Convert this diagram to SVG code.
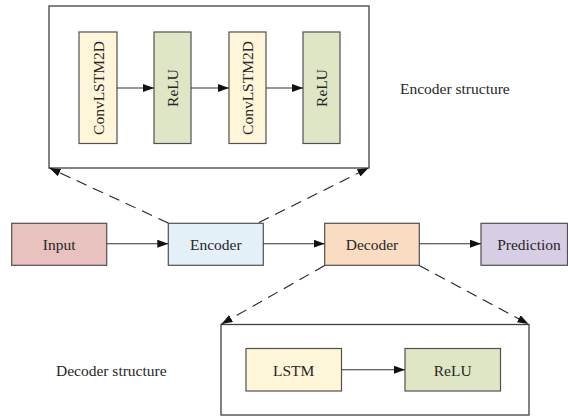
<svg xmlns="http://www.w3.org/2000/svg" width="568" height="417" viewBox="0 0 568 417">
<defs>
<marker id="ah" markerUnits="userSpaceOnUse" markerWidth="12" markerHeight="8" refX="11" refY="4" orient="auto">
<path d="M0,0 L11,4 L0,8 z" fill="#111"/>
</marker>
<style>
.box{stroke:#505050;stroke-width:1.2}
.frame{fill:#fff;stroke:#404040;stroke-width:1.3}
.t{font-family:"Liberation Serif","Times New Roman",serif;font-size:15.5px;fill:#262626;text-anchor:middle;dominant-baseline:central}
.lab{font-family:"Liberation Serif","Times New Roman",serif;font-size:15.5px;fill:#262626;dominant-baseline:central}
.arr{stroke:#333;stroke-width:1.1;fill:none;marker-end:url(#ah)}
.dash{stroke:#222;stroke-width:1.1;fill:none;stroke-dasharray:11,7;marker-end:url(#ah)}
.yel{fill:#FFF5D8}
.grn{fill:#DFE6C5}
</style>
</defs>
<rect width="568" height="417" fill="#fff"/>

<g id="encoder-structure">
<rect class="frame" x="49" y="6" width="320" height="162"/>
<g id="enc-convlstm1"><rect class="box yel" x="79" y="32" width="38" height="111.5"/><text class="t" transform="translate(98,88) rotate(-90)">ConvLSTM2D</text></g>
<g id="enc-relu1"><rect class="box grn" x="154" y="32" width="37" height="111.5"/><text class="t" transform="translate(172.5,88) rotate(-90)">ReLU</text></g>
<g id="enc-convlstm2"><rect class="box yel" x="229" y="32" width="37" height="111.5"/><text class="t" transform="translate(247.5,88) rotate(-90)">ConvLSTM2D</text></g>
<g id="enc-relu2"><rect class="box grn" x="303" y="32" width="37" height="111.5"/><text class="t" transform="translate(321.5,88) rotate(-90)">ReLU</text></g>
</g>
<g id="encoder-label"><text class="lab" x="400" y="88">Encoder structure</text></g>

<g id="decoder-structure">
<rect class="frame" x="221" y="324.5" width="308" height="90.5"/>
<g id="dec-lstm"><rect class="box yel" x="246" y="348.5" width="95.5" height="42.5"/><text class="t" x="293.7" y="370">LSTM</text></g>
<g id="dec-relu"><rect class="box grn" x="405" y="348.5" width="95.5" height="42.5"/><text class="t" x="452.7" y="370">ReLU</text></g>
</g>
<g id="decoder-label"><text class="lab" x="56" y="370">Decoder structure</text></g>

<g id="input"><rect class="box" fill="#E8C2BE" x="11.7" y="223.3" width="95" height="42"/><text class="t" x="59.2" y="244.3">Input</text></g>
<g id="encoder"><rect class="box" fill="#E3F0F7" x="168.3" y="223.3" width="95" height="42"/><text class="t" x="215.8" y="244.3">Encoder</text></g>
<g id="decoder"><rect class="box" fill="#FADCC3" x="324.7" y="223.3" width="94.6" height="42"/><text class="t" x="372" y="244.3">Decoder</text></g>
<g id="prediction"><rect class="box" fill="#D8CEE4" x="481" y="223.3" width="86.5" height="42"/><text class="t" x="529" y="244.3">Prediction</text></g>

<g id="connectors">
<line class="arr" x1="117" y1="88" x2="154" y2="88"/>
<line class="arr" x1="191" y1="88" x2="229" y2="88"/>
<line class="arr" x1="266" y1="88" x2="303" y2="88"/>
<line class="arr" x1="341.5" y1="369.7" x2="405" y2="369.7"/>
<line class="arr" x1="106.7" y1="243.7" x2="168.3" y2="243.7"/>
<line class="arr" x1="263.3" y1="243.7" x2="324.7" y2="243.7"/>
<line class="arr" x1="419.3" y1="243.7" x2="481" y2="243.7"/>
<line class="dash" x1="168.3" y1="223" x2="49.5" y2="168"/>
<line class="dash" x1="259" y1="222.5" x2="368.5" y2="168"/>
<line class="dash" x1="324.7" y1="265.5" x2="221.5" y2="324"/>
<line class="dash" x1="419.3" y1="265.5" x2="528.5" y2="324"/>
</g>
</svg>
